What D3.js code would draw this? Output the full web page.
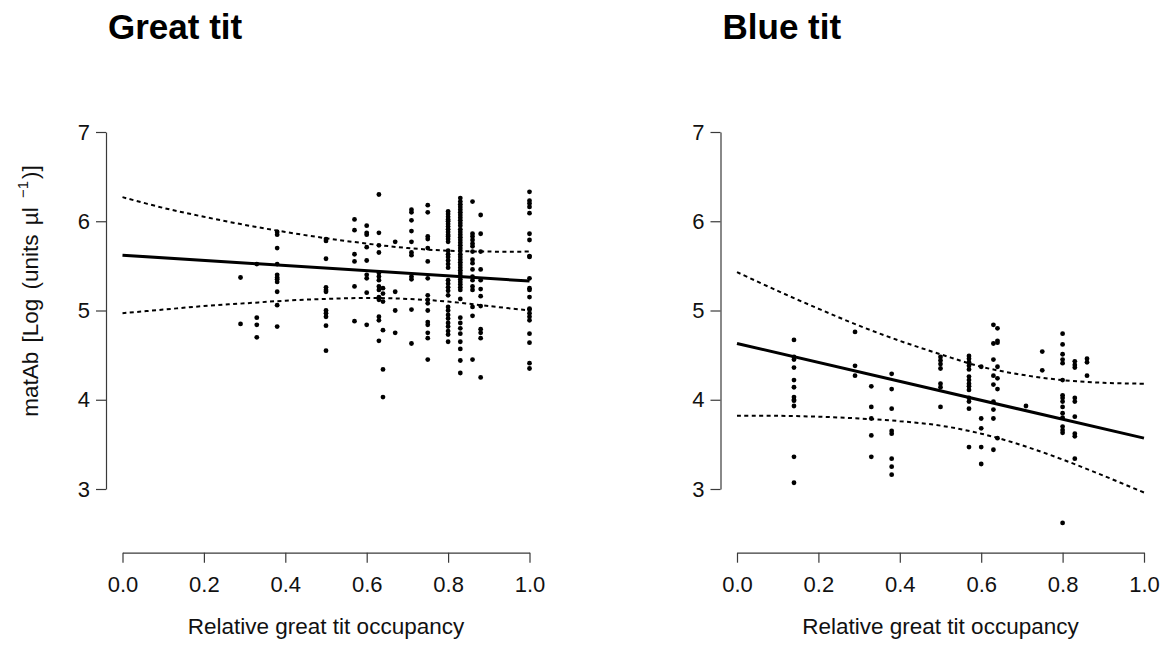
<!DOCTYPE html>
<html>
<head>
<meta charset="utf-8">
<script src="https://cdn.jsdelivr.net/npm/d3@7"></script>
<style>
  html, body { margin: 0; padding: 0; background: #fff; }
  svg { display: block; font-family: "Liberation Sans", Arial, sans-serif; }
</style>
</head>
<body>
<svg id="chart" width="1165" height="646"></svg>
<script>
// ---------------- DATA ----------------
const panelTitles = ["Great tit", "Blue tit"];
const xLabel = "Relative great tit occupancy";
const xTicks = [0, 0.2, 0.4, 0.6, 0.8, 1.0];
const yTicks = [3, 4, 5, 6, 7];

// Great tit: occupancy column -> matAb values
const greatTitColumns = [
  [0.29, [5.37, 4.85]],
  [0.33, [5.52, 4.92, 4.84, 4.70]],
  [0.38, [5.88, 5.85, 5.70, 5.52, 5.40, 5.37, 5.35, 5.32, 5.21, 5.06, 4.82]],
  [0.50, [5.80, 5.78, 5.58, 5.26, 5.23, 5.21, 5.00, 4.97, 4.93, 4.83, 4.55]],
  [0.57, [6.02, 5.90, 5.63, 5.55, 5.27, 4.88]],
  [0.60, [5.95, 5.87, 5.85, 5.71, 5.56, 5.40, 5.36, 5.20, 4.84]],
  [0.63, [6.30, 5.87, 5.73, 5.65, 5.42, 5.38, 5.34, 5.27, 5.23, 5.15, 5.12, 4.93, 4.89, 4.66]],
  [0.64, [5.25, 5.19, 5.10, 4.78, 4.34, 4.03]],
  [0.67, [5.77, 5.21, 5.00, 4.75]],
  [0.71, [6.13, 6.10, 6.01, 5.89, 5.77, 5.65, 5.62, 5.38, 5.35, 5.01, 4.63]],
  [0.75, [6.18, 6.10, 5.83, 5.80, 5.70, 5.55, 5.36, 5.17, 5.12, 5.08, 5.00, 4.87, 4.84, 4.75, 4.69, 4.45]],
  [0.80, [6.11, 6.08, 6.05, 6.02, 6.00, 5.97, 5.94, 5.91, 5.88, 5.85, 5.83, 5.80, 5.77, 5.67, 5.63, 5.60,
          5.56, 5.52, 5.48, 5.34, 5.30, 5.26, 5.22, 5.17, 5.04, 5.00, 4.95, 4.91, 4.86, 4.82, 4.77, 4.73, 4.65]],
  [0.83, [6.26, 6.22, 6.19, 6.16, 6.13, 6.10, 6.07, 6.04, 6.01, 5.98, 5.95, 5.91, 5.88, 5.85, 5.82, 5.79,
          5.76, 5.73, 5.70, 5.67, 5.63, 5.60, 5.57, 5.54, 5.51, 5.48, 5.45, 5.42, 5.39, 5.35, 5.32, 5.29,
          5.26, 5.23, 5.13, 4.92, 4.86, 4.80, 4.74, 4.65, 4.57, 4.44, 4.30]],
  [0.86, [6.22, 5.86, 5.83, 5.79, 5.75, 5.72, 5.66, 5.57, 5.53, 5.46, 5.38, 5.34, 5.27, 5.23, 5.04, 4.94, 4.45]],
  [0.88, [6.07, 5.86, 5.66, 5.46, 5.34, 5.24, 5.16, 5.05, 4.79, 4.75, 4.69, 4.25]],
  [1.00, [6.33, 6.23, 6.20, 6.16, 6.09, 5.86, 5.79, 5.61, 5.60, 5.36, 5.25, 5.23, 5.15, 5.02, 5.01, 4.97,
          4.93, 4.89, 4.74, 4.64, 4.41, 4.35]]
];

// Blue tit: occupancy column -> matAb values
const blueTitColumns = [
  [0.14, [4.67, 4.48, 4.45, 4.36, 4.22, 4.14, 4.03, 4.00, 3.99, 3.93, 3.36, 3.07]],
  [0.29, [4.76, 4.38, 4.27]],
  [0.33, [4.15, 3.92, 3.79, 3.60, 3.36]],
  [0.38, [4.29, 4.12, 3.90, 3.65, 3.62, 3.34, 3.25, 3.16]],
  [0.50, [4.48, 4.44, 4.40, 4.35, 4.18, 4.14, 3.92]],
  [0.57, [4.49, 4.46, 4.42, 4.38, 4.34, 4.26, 4.22, 4.18, 4.15, 4.11, 4.02, 3.98, 3.90, 3.47]],
  [0.60, [4.37, 3.79, 3.68, 3.47, 3.28]],
  [0.63, [4.84, 4.63, 4.45, 4.27, 4.17, 3.98, 3.89, 3.79, 3.44]],
  [0.64, [4.80, 4.66, 4.64, 4.37, 4.24, 4.12, 3.57]],
  [0.71, [3.93]],
  [0.75, [4.54, 4.33]],
  [0.80, [4.74, 4.62, 4.51, 4.45, 4.41, 4.22, 4.05, 4.02, 3.98, 3.92, 3.85, 3.80, 3.70, 3.66, 3.63, 2.62]],
  [0.83, [4.43, 4.39, 4.36, 4.02, 3.98, 3.81, 3.62, 3.59, 3.34]],
  [0.86, [4.46, 4.42, 4.27]]
];

// Fitted lines (value at occupancy 0 and 1)
const fitX = [0, 1];
const greatTitFit = [5.62, 5.33];
const blueTitFit = [4.63, 3.57];

// Confidence bands read at occupancy 0, 0.1, ..., 1.0
const ciX = [0, 0.1, 0.2, 0.3, 0.4, 0.5, 0.6, 0.7, 0.8, 0.9, 1.0];
const greatTitUpper = [6.27, 6.15, 6.05, 5.96, 5.88, 5.81, 5.75, 5.70, 5.67, 5.66, 5.66];
const greatTitLower = [4.97, 5.01, 5.05, 5.08, 5.11, 5.13, 5.14, 5.13, 5.10, 5.05, 5.00];
const blueTitUpper  = [5.43, 5.22, 5.02, 4.83, 4.66, 4.51, 4.37, 4.28, 4.22, 4.19, 4.18];
const blueTitLower  = [3.82, 3.82, 3.81, 3.79, 3.76, 3.71, 3.62, 3.49, 3.33, 3.15, 2.96];

// ---------------- DRAW ----------------
const svg = d3.select("#chart");
const panels = [
  { title: panelTitles[0], cols: greatTitColumns, fit: greatTitFit, up: greatTitUpper, lo: greatTitLower, dx: 0, ylab: true },
  { title: panelTitles[1], cols: blueTitColumns, fit: blueTitFit, up: blueTitUpper, lo: blueTitLower, dx: 614.5, ylab: false }
];

const axisColor = "#3a3a3a";
const tickFont = 22;
const labFont = 22.5;

panels.forEach(p => {
  const g = svg.append("g").attr("transform", `translate(${p.dx},0)`);
  const x = d3.scaleLinear().domain([0, 1]).range([122.5, 529.5]);
  const y = d3.scaleLinear().domain([3, 7]).range([489, 132]);

  // title
  g.append("text")
    .attr("x", 108).attr("y", 39)
    .attr("font-size", 35).attr("font-weight", "bold")
    .attr("fill", "#000")
    .text(p.title);

  // y axis
  const ya = g.append("g").attr("transform", "translate(106,0)")
    .call(d3.axisLeft(y).tickValues(yTicks).tickSize(10).tickSizeOuter(0).tickPadding(6).tickFormat(d3.format("d")));
  // x axis
  const xa = g.append("g").attr("transform", "translate(0,552.7)")
    .call(d3.axisBottom(x).tickValues(xTicks).tickSize(10).tickSizeOuter(0).tickPadding(13.5).tickFormat(d3.format(".1f")));
  [ya, xa].forEach(a => {
    a.selectAll("path, line").attr("stroke", axisColor).attr("stroke-width", 1.2);
    a.selectAll("text").attr("font-size", tickFont).attr("fill", "#111")
      .attr("font-family", "'Liberation Sans', Arial, sans-serif");
  });

  // x label
  g.append("text")
    .attr("x", 326).attr("y", 634)
    .attr("text-anchor", "middle")
    .attr("font-size", labFont).attr("fill", "#111")
    .text(xLabel);

  // y label
  if (p.ylab) {
    const t = g.append("text")
      .attr("transform", "translate(38,291) rotate(-90)")
      .attr("text-anchor", "middle")
      .attr("font-size", labFont).attr("fill", "#111")
      .attr("word-spacing", 3);
    t.append("tspan").text("matAb [Log (units µl ");
    t.append("tspan").attr("font-size", 15).attr("dy", -10).text("−1");
    t.append("tspan").attr("dy", 10).attr("dx", 2).text(")]");
  }

  // points
  const pts = [];
  p.cols.forEach(([occ, vals]) => vals.forEach(v => pts.push([occ, v])));
  g.append("g").selectAll("circle").data(pts).join("circle")
    .attr("cx", d => x(d[0])).attr("cy", d => y(d[1]))
    .attr("r", 2.4).attr("fill", "#000");

  // confidence bands
  const band = d3.line().x(d => x(d[0])).y(d => y(d[1])).curve(d3.curveCatmullRom);
  [p.up, p.lo].forEach(arr => {
    g.append("path")
      .attr("d", band(ciX.map((cx, i) => [cx, arr[i]])))
      .attr("fill", "none").attr("stroke", "#000")
      .attr("stroke-width", 2).attr("stroke-dasharray", "4,3.4");
  });

  // fit line
  g.append("path")
    .attr("d", d3.line().x(d => x(d[0])).y(d => y(d[1]))(fitX.map((fx, i) => [fx, p.fit[i]])))
    .attr("fill", "none").attr("stroke", "#000").attr("stroke-width", 3);
});
</script>
</body>
</html>
